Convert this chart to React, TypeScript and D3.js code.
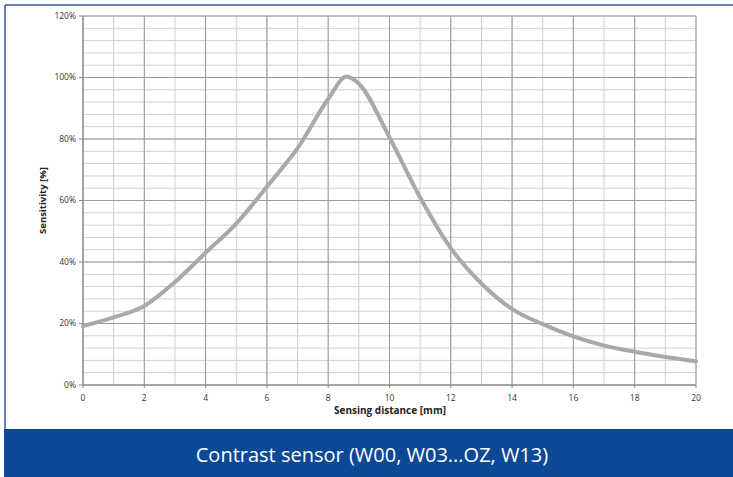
import React from "react";
import * as d3 from "d3";

const distances = [0, 1, 2, 3, 4, 5, 6, 7, 8, 8.6, 9, 10, 11, 12, 13, 14, 15, 16, 17, 18, 19, 20];
const sensitivity = [19.2, 22, 25.7, 33.5, 43, 52.5, 64.5, 77, 93, 100.3, 98, 80.5, 61, 44.5, 33, 24.7, 19.8, 15.8, 12.8, 10.8, 9.1, 7.7];
const xTicks = [0, 2, 4, 6, 8, 10, 12, 14, 16, 18, 20];
const yTicks = [0, 20, 40, 60, 80, 100, 120];
const title = "Contrast sensor (W00, W03...OZ, W13)";

export default function App() {
  const W = 733, H = 477;
  const x = d3.scaleLinear().domain([0, 20]).range([83, 696]);
  const y = d3.scaleLinear().domain([0, 120]).range([385, 16]);
  const line = d3
    .line<number>()
    .x((_, i) => x(distances[i]))
    .y((d) => y(d))
    .curve(d3.curveMonotoneX);

  const minorX = d3.range(0, 21, 1);
  const minorY = d3.range(0, 121, 4);
  const font = "'Open Sans', 'Liberation Sans', sans-serif";

  return (
    <svg width={W} height={H} style={{ position: "absolute", left: 0, top: 0 }}>
      <rect x={0} y={0} width={W} height={H} fill="#fff" />
      {/* frame */}
      <line x1={5} x2={W} y1={5} y2={5} stroke="#2f5b9e" strokeWidth={1.5} />
      <line x1={5} x2={5} y1={5} y2={429} stroke="#2f5b9e" strokeWidth={1.5} />
      {/* minor grid */}
      {minorY.map((v) => (
        <line key={"my" + v} x1={x(0)} x2={x(20)} y1={y(v)} y2={y(v)} stroke="#cfcfcf" strokeWidth={1} />
      ))}
      {minorX.map((v) => (
        <line key={"mx" + v} x1={x(v)} x2={x(v)} y1={y(0)} y2={y(120)} stroke="#cfcfcf" strokeWidth={1} />
      ))}
      {/* major grid */}
      {yTicks.map((v) => (
        <line key={"gy" + v} x1={x(0)} x2={x(20)} y1={y(v)} y2={y(v)} stroke="#9a9a9a" strokeWidth={1} />
      ))}
      {xTicks.map((v) => (
        <line key={"gx" + v} x1={x(v)} x2={x(v)} y1={y(0)} y2={y(120)} stroke="#9a9a9a" strokeWidth={1} />
      ))}
      {/* axes */}
      <line x1={x(0)} x2={x(0)} y1={y(0)} y2={y(120)} stroke="#8a8a8a" />
      <line x1={x(0)} x2={x(20)} y1={y(0)} y2={y(0)} stroke="#8a8a8a" />
      {yTicks.map((v) => (
        <g key={"ty" + v}>
          <line x1={x(0) - 4} x2={x(0)} y1={y(v)} y2={y(v)} stroke="#8a8a8a" />
          <text x={x(0) - 7} y={y(v)} dy="0.35em" textAnchor="end" fontSize={8.5} fill="#333" fontFamily={font}>
            {v}%
          </text>
        </g>
      ))}
      {xTicks.map((v) => (
        <g key={"tx" + v}>
          <line x1={x(v)} x2={x(v)} y1={y(0)} y2={y(0) + 3} stroke="#8a8a8a" />
          <text x={x(v)} y={y(0) + 16} textAnchor="middle" fontSize={8.5} fill="#333" fontFamily={font}>
            {v}
          </text>
        </g>
      ))}
      {/* curve */}
      <path d={line(sensitivity) || ""} fill="none" stroke="#a7a9ac" strokeWidth={4} strokeLinejoin="round" strokeLinecap="round" />
      {/* axis titles */}
      <text x={390} y={414} textAnchor="middle" fontSize={10} fontWeight="bold" fill="#222" fontFamily={font}>
        Sensing distance [mm]
      </text>
      <text transform={`translate(46,${(y(0) + y(120)) / 2}) rotate(-90)`} textAnchor="middle" fontSize={9.5} fontWeight="bold" fill="#222" fontFamily={font}>
        Sensitivity [%]
      </text>
      {/* banner */}
      <rect x={4} y={429} width={W - 4} height={H - 429} fill="#0b4996" />
      <text x={372} y={462} textAnchor="middle" fontSize={20} fill="#fff" fontFamily={font}>
        {title}
      </text>
    </svg>
  );
}
